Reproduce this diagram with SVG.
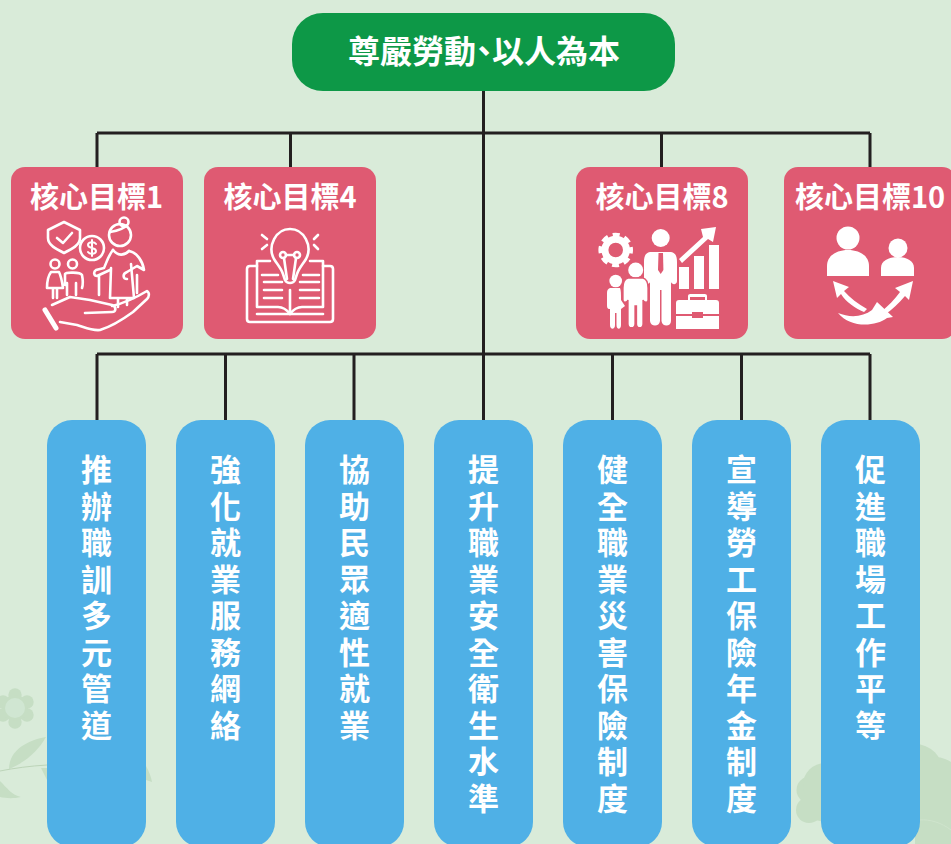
<svg xmlns="http://www.w3.org/2000/svg" width="951" height="844" viewBox="0 0 951 844">
<style>
.t{font-family:"Noto Sans CJK TC","Noto Sans CJK SC",sans-serif;font-weight:700;fill:#fff}
.g{font-size:29px;text-anchor:middle}
.v{font-size:31px;writing-mode:vertical-rl;letter-spacing:5.5px}
.c{fill:none;stroke:#231f20;stroke-width:3}
.b{fill:#4fb0e6}
.p{fill:#df5a72}
.s{fill:none;stroke:#fff;stroke-width:2.6;stroke-linecap:round;stroke-linejoin:round}
.f{fill:#fff}
.d{fill:#c6dec4}
.h{font-feature-settings:"palt"}
</style>
<rect width="951" height="844" fill="#d9ebd9"/>
<g id="decor">
<g class="d"><circle cx="15" cy="695" r="6.700"/><circle cx="27" cy="702" r="6.700"/><circle cx="27" cy="715" r="6.700"/><circle cx="15" cy="722" r="6.700"/><circle cx="3" cy="715" r="6.700"/><circle cx="3" cy="702" r="6.700"/><circle cx="15" cy="708" r="13"/></g>
<circle cx="15" cy="708" r="10" fill="#d0e6d2"/>
<path class="d" d="M9 769C9 752 24 741 46 737C38 751 26 762 9 769Z"/>
<path class="d" d="M0 781C7 788 12 795 21 797C12 799 5 798 0 797Z"/>
<path d="M0 771C15 768 30 766 47 765" fill="none" stroke="#bcd4b8" stroke-width="1"/>
<path class="d" d="M146 766C149 771 151 777 152 782L146 780Z"/>
<path class="d" d="M41 768L47 780V768Z"/>
<g class="d"><circle cx="810" cy="790" r="13.500"/><circle cx="809" cy="810" r="13"/><circle cx="825" cy="785" r="22"/><path d="M805 800H825V822L815 820Z"/><circle cx="915" cy="772" r="28"/><circle cx="935" cy="785" r="28"/><rect x="915" y="790" width="36" height="54"/></g>
<path d="M920 820C930 819 942 823 951 830" fill="none" stroke="#cfe4cd" stroke-width="1"/>
</g>
<g id="connectors" class="c">
<path d="M483.500 91V420M97 133H870M97 133V167M290.500 133V167M661.500 133V167M870 133V167"/>
<path d="M97 354H870M97 354V420M225.500 354V420M354 354V420M612.500 354V420M741.500 354V420M870 354V420"/>
</g>
<g id="root"><rect x="292" y="13" width="383" height="78" rx="31" fill="#0d9847"/>
<text class="t h" x="484" y="62.500" font-size="32" text-anchor="middle">尊嚴勞動、以人為本</text></g>
<g id="goal1"><rect class="p" x="11" y="167" width="172" height="172" rx="14"/>
<text class="t g" x="96.500" y="208">核心目標1</text>
<g class="s">
<path d="M48 230L64 222L80 230V238C80 245 72 249 64 253C56 249 48 245 48 238Z"/><path d="M57 238L63 243L72 233"/>
<circle cx="92" cy="248" r="12"/><path d="M96 244C94 241 88 242 88 245C88 249 96 247 96 251C96 254 90 255 88 252M92 240V256" stroke-width="2"/>
<circle cx="120" cy="235" r="11"/><circle cx="124" cy="222" r="4.500"/><path d="M110 232C116 231 124 229 127 225"/>
<path d="M113 250C118 256 124 256 129 251"/>
<path d="M113 250C108 256 106 264 104 268L96 270C93 272 94 276 97 276L110 270M99 276V295"/>
<path d="M129 251C137 252 143 262 144 270L137 266L127 272C122 274 123 279 127 279M137 275V293"/>
<path d="M111 268L110 298H134L131 264M118 298V307M127 298V305"/>
<circle cx="55" cy="264" r="4.500"/><circle cx="72.500" cy="264" r="4.500"/>
<path d="M51 272C48 276 47 283 47 288H63C62 281 61 276 59 272ZM53 289V298M57 289V298M65 274C66 272 80 272 82 275C83 280 83 285 82 288M65 274V285M67 283V295M76 283V295"/>
<path d="M52 305L70 297L90 300L112 305C117 307 116 312 112 312L85 313"/>
<path d="M112 306C125 303 137 297 147 291C150 293 149 297 147 299L133 312C122 320 110 327 100 330C92 331 84 327 77 325L60 322"/>
<path d="M45 310L56 328" stroke-width="5"/>
</g></g>
<g id="goal4"><rect class="p" x="204" y="167" width="172" height="172" rx="14"/>
<text class="t g" x="290" y="208">核心目標4</text>
<g class="s">
<path d="M285 280L283 274C281 268 277 264 274 259C267 246 276 229 290 229C304 229 313 246 306 259C303 264 299 268 297 274L295 280C293 284 287 284 285 280Z"/>
<circle cx="283" cy="255" r="3"/><circle cx="297" cy="255" r="3"/><path d="M286 255H294M284 258L287 279M296 258L293 279"/>
<path d="M262 235L267 239M262 249L267 245M318 235L314 239M318 249L314 245"/>
<path d="M270 261H257V307H278C283 307 287 310 290 314C293 310 297 307 302 307H323V261H310"/>
<path d="M257 314H323"/>
<path d="M257 266H250C248 266 247 267 247 269V319C247 321 248 322 250 322H330C332 322 333 321 333 319V269C333 267 332 266 330 266H323"/>
<path d="M290 290V314"/>
<path d="M262 275H278M264 282H282M264 290H282M264 298H282M303 275H319M300 282H319M300 290H319M300 298H319"/>
</g></g>
<g id="goal8"><rect class="p" x="576" y="167" width="172" height="172" rx="14"/>
<text class="t g" x="662" y="208">核心目標8</text>
<g class="f">
<circle cx="615.700" cy="250" r="10.800" fill="none" stroke="#fff" stroke-width="7"/>
<circle cx="615.700" cy="250" r="15.300" fill="none" stroke="#fff" stroke-width="4" stroke-dasharray="7 5.020" stroke-dashoffset="3.500"/>
<circle cx="660.700" cy="238" r="9"/>
<path d="M650 252H671C676 253 677 257 677 262V281C677 285 672 285 671 282V321C671 327 662 327 661.500 321V290H660V321C659.500 327 650.500 327 650 321V282C649 285 644 285 644 281V262C644 257 645 253 650 252Z"/>
<circle cx="635.700" cy="270" r="7.500"/>
<path stroke="#df5a72" stroke-width="1.300" d="M628 278H643C647 279 648 283 648 288V300C648 303 644 303 643 300V324C643 329 636.500 329 636.500 324V306H635V324C635 329 628 329 628 324V300C627 303 623 303 623 300V288C623 283 624 279 628 278Z"/>
<circle cx="615.700" cy="281" r="6.300"/>
<path d="M610 288H620C621 290 621 294 621 300L625 306L621 309V325C621 330 616.500 330 616.500 325V313H615V325C615 330 610 330 610 325V309C607 309 607 307 607 304V293C607 290 608 289 610 288Z"/>
<path d="M679 259L703 237L701 229L716 227L713 242L708 239L682 263Z"/>
<rect x="679" y="267" width="10" height="22"/><rect x="694" y="256" width="10" height="33"/><rect x="709" y="245" width="10" height="44"/>
<path d="M679 300H688V296C688 294 690 294 692 294H703C705 294 707 294 707 296V300H716C718 300 719 301 719 303V314H703V312H692V314H676V303C676 301 677 300 679 300ZM690 300H705V297H690ZM676 316H692V318H703V316H719V329H676Z"/>
</g>
<path d="M658.500 253L658 270L660.700 274L663.400 270L663 253Z" fill="#df5a72"/>
</g>
<g id="goal10"><rect class="p" x="784" y="167" width="172" height="172" rx="14"/>
<text class="t g" x="870" y="208">核心目標10</text>
<g class="f">
<circle cx="848" cy="238" r="11.500"/><path d="M827 276V266C827 256 836 250 848 250C860 250 869 256 869 266V276Z"/>
<circle cx="898" cy="248" r="9.500"/><path d="M881 276V268C881 261 888 257 898 257C907 257 914 261 914 268V276Z"/>
<path d="M833 281L849 287L844 291C850 298 858 304 867 309L864 312C855 308 846 302 841 294L837 298Z"/>
<path d="M913 281L909 300L905 296C899 303 892 310 884 315L881 312C888 306 895 299 900 292L895 288Z"/>
<path d="M838 313C850 318 863 317 872 310L877 302L893 317L887 318C875 327 850 328 838 313Z"/>
</g></g>
<g id="item1"><rect class="b" x="47" y="420" width="99" height="427" rx="25"/><text class="t v" x="96.500" y="454">推辦職訓多元管道</text></g>
<g id="item2"><rect class="b" x="176" y="420" width="99" height="427" rx="25"/><text class="t v" x="225.500" y="454">強化就業服務網絡</text></g>
<g id="item3"><rect class="b" x="305" y="420" width="99" height="427" rx="25"/><text class="t v" x="354.500" y="454">協助民眾適性就業</text></g>
<g id="item4"><rect class="b" x="434" y="420" width="99" height="427" rx="25"/><text class="t v" x="483.500" y="454">提升職業安全衛生水準</text></g>
<g id="item5"><rect class="b" x="563" y="420" width="99" height="427" rx="25"/><text class="t v" x="612.500" y="454">健全職業災害保險制度</text></g>
<g id="item6"><rect class="b" x="692" y="420" width="99" height="427" rx="25"/><text class="t v" x="741.500" y="454">宣導勞工保險年金制度</text></g>
<g id="item7"><rect class="b" x="821" y="420" width="99" height="427" rx="25"/><text class="t v" x="870.500" y="454">促進職場工作平等</text></g>
</svg>
